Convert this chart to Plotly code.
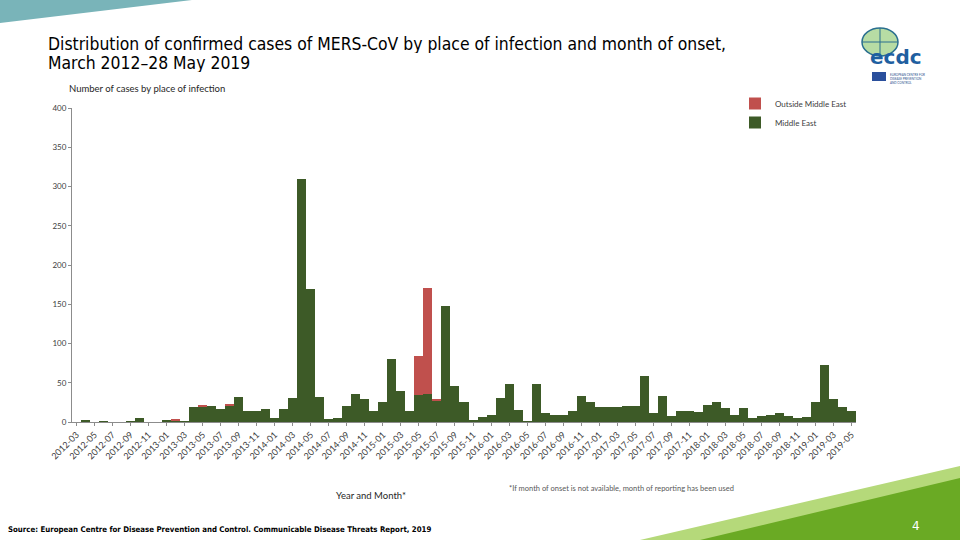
import plotly.graph_objects as go

# ---------------- data ----------------
months = []
for y in range(2012, 2020):
    for m in range(1, 13):
        if (y == 2012 and m < 3) or (y == 2019 and m > 5):
            continue
        months.append(f"{y}-{m:02d}")

middle_east = [
    0, 2, 0, 1, 0, 0, 1, 5, 0, 0,            # 2012-03 .. 2012-12
    3, 2, 1, 19, 20, 20, 17, 21, 32, 14, 14, 17,   # 2013
    5, 16, 30, 310, 170, 32, 4, 5, 20, 36, 29, 14, # 2014
    25, 80, 40, 14, 35, 36, 27, 148, 46, 25, 3, 7, # 2015
    9, 30, 48, 15, 1, 49, 11, 9, 9, 14, 33, 25,    # 2016
    19, 19, 19, 20, 20, 58, 11, 33, 8, 14, 14, 13, # 2017
    22, 25, 18, 9, 18, 5, 8, 9, 11, 8, 5, 7,       # 2018
    25, 73, 29, 19, 14,                            # 2019
]
outside_middle_east = [
    0, 0, 0, 0, 0, 0, 0, 0, 0, 0,
    0, 2, 0, 0, 2, 0, 0, 2, 0, 0, 0, 0,
    0, 0, 0, 0, 0, 0, 0, 0, 0, 0, 0, 0,
    0, 0, 0, 0, 49, 135, 2, 0, 0, 0, 0, 0,
    0, 0, 0, 0, 0, 0, 0, 0, 0, 0, 0, 0,
    0, 0, 0, 0, 0, 0, 0, 0, 0, 0, 0, 0,
    0, 0, 0, 0, 0, 0, 0, 0, 0, 0, 0, 0,
    0, 0, 0, 0, 0,
]
tick_labels = months[::2]
y_ticks = [0, 50, 100, 150, 200, 250, 300, 350, 400]

# ---------------- layout helpers (pixel -> paper) ----------------
W, H = 960, 540
L, R, T, B = 72, 856, 108, 422
def px(x):
    return (x - L) / (R - L)
def py(y):
    return (B - y) / (B - T)

fig = go.Figure()
fig.add_trace(go.Bar(x=months, y=middle_east, name="Middle East",
                     marker=dict(color="#3d5a27", line=dict(width=0))))
fig.add_trace(go.Bar(x=months, y=outside_middle_east, name="Outside Middle East",
                     marker=dict(color="#c0504d", line=dict(width=0))))

fig.update_layout(
    width=W, height=H,
    margin=dict(l=L, r=W - R, t=T, b=H - B, pad=0),
    paper_bgcolor="white", plot_bgcolor="white",
    barmode="stack", bargap=0,
    font=dict(family="Lato", size=9, color="#404040"),
    legend=dict(x=px(735), y=py(89), xanchor="left", yanchor="top",
                traceorder="reversed", font=dict(size=8, color="#404040"),
                bgcolor="rgba(0,0,0,0)", itemwidth=30),
    xaxis=dict(type="category", tickmode="array", tickvals=tick_labels,
               ticktext=tick_labels, tickangle=-45, showgrid=False,
               showline=True, linecolor="#8c8c8c", linewidth=1,
               ticks="outside", ticklen=3, tickcolor="#8c8c8c",
               tickfont=dict(size=9, color="#404040")),
    yaxis=dict(range=[0, 400], tickvals=y_ticks, showgrid=False,
               showline=True, linecolor="#8c8c8c", linewidth=1,
               ticks="outside", ticklen=3, tickcolor="#8c8c8c",
               tickfont=dict(size=8, color="#404040"), zeroline=False),
)

# decorations
shapes = [
    dict(type="path", xref="paper", yref="paper",
         path=f"M {px(0)},{py(0)} L {px(192)},{py(0)} L {px(0)},{py(23)} Z",
         fillcolor="#79b4b9", line=dict(width=0), layer="below"),
    dict(type="path", xref="paper", yref="paper",
         path=f"M {px(640)},{py(540)} L {px(960)},{py(466)} L {px(960)},{py(540)} Z",
         fillcolor="#b5d97a", line=dict(width=0)),
    dict(type="path", xref="paper", yref="paper",
         path=f"M {px(700)},{py(540)} L {px(960)},{py(478)} L {px(960)},{py(540)} Z",
         fillcolor="#6aaa24", line=dict(width=0)),
    # logo globe
    dict(type="circle", xref="paper", yref="paper",
         x0=px(862), x1=px(898), y0=py(56), y1=py(28),
         fillcolor="#b7dca4", line=dict(color="#2a6f8f", width=1.5)),
    dict(type="line", xref="paper", yref="paper",
         x0=px(880), x1=px(880), y0=py(56), y1=py(28),
         line=dict(color="#2a6f8f", width=1)),
    dict(type="line", xref="paper", yref="paper",
         x0=px(862), x1=px(898), y0=py(42), y1=py(42),
         line=dict(color="#2a6f8f", width=1)),
    dict(type="rect", xref="paper", yref="paper",
         x0=px(872), x1=px(886), y0=py(81), y1=py(72),
         fillcolor="#2a4f9c", line=dict(width=0)),
]
fig.update_layout(shapes=shapes)

ann = [
    dict(text="Distribution of confirmed cases of MERS-CoV by place of infection and month of onset,",
         x=px(46), y=py(44), xanchor="left", yanchor="middle", height=18,
         font=dict(family="DejaVu Sans Condensed", size=17.4, color="#000000")),
    dict(text="March 2012\u201328 May 2019",
         x=px(46), y=py(62.5), xanchor="left", yanchor="middle", height=18,
         font=dict(family="DejaVu Sans Condensed", size=17.4, color="#000000")),
    dict(text="Number of cases by place of infection", x=px(67), y=py(88),
         xanchor="left", yanchor="middle", font=dict(size=9.5, color="#262626")),
    dict(text="Year and Month*", x=px(371), y=py(495), xanchor="center",
         yanchor="middle", font=dict(size=9.5, color="#262626")),
    dict(text="*If month of onset is not available, month of reporting has been used",
         x=px(507), y=py(488), xanchor="left", yanchor="middle",
         font=dict(size=7.5, color="#595959")),
    dict(text="<b>Source: European Centre for Disease Prevention and Control. Communicable Disease Threats Report, 2019</b>",
         x=px(6), y=py(529), xanchor="left", yanchor="middle",
         font=dict(family="DejaVu Sans Condensed", size=7.8, color="#000000")),
    dict(text="4", x=px(916), y=py(526), xanchor="center", yanchor="middle",
         font=dict(family="DejaVu Sans", size=12, color="white")),
    dict(text="<b>ecdc</b>", x=px(896), y=py(57), xanchor="center", yanchor="middle",
         font=dict(family="DejaVu Sans", size=20, color="#1f5fa0")),
    dict(text="EUROPEAN CENTRE FOR<br>DISEASE PREVENTION<br>AND CONTROL", x=px(888), y=py(79),
         xanchor="left", yanchor="middle", align="left",
         font=dict(size=3, color="#1f4e8c")),
]
for a in ann:
    a.update(xref="paper", yref="paper", showarrow=False)
fig.update_layout(annotations=ann)

fig.write_html("out.html", config={"displayModeBar": False},
               post_script="document.body.style.margin='0';")
